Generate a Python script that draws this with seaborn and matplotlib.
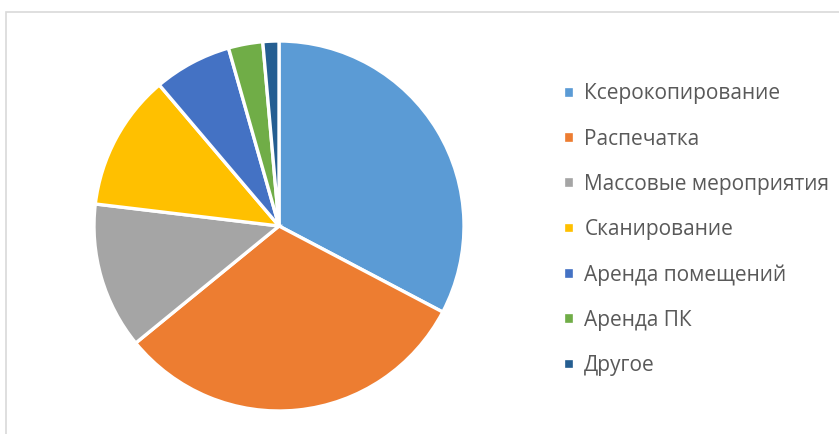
import matplotlib
matplotlib.use("Agg")
import matplotlib.pyplot as plt
from matplotlib.patches import Rectangle
import seaborn as sns

# Share of services (percent)
services = [
    "Ксерокопирование",
    "Распечатка",
    "Массовые мероприятия",
    "Сканирование",
    "Аренда помещений",
    "Аренда ПК",
    "Другое",
]
shares = [32.7, 31.4, 12.8, 11.9, 6.8, 3.0, 1.4]
colors = ["#5B9BD5", "#ED7D31", "#A5A5A5", "#FFC000", "#4472C4", "#70AD47", "#255E91"]

sns.set_theme(style="white")
plt.rcParams["font.family"] = ["Open Sans", "DejaVu Sans"]

fig = plt.figure(figsize=(8.39, 4.34), dpi=100)

# light chart-area frame (left and top edges visible)
fig.patches.append(Rectangle((6 / 839, -0.1), 1.2, 1.1 - 12 / 434,
                             transform=fig.transFigure, fill=False,
                             edgecolor="#D9D9D9", linewidth=1.2))

ax = fig.add_axes([94 / 839, 23 / 434, 370 / 839, 370 / 434])
wedges, _ = ax.pie(shares, colors=colors, startangle=90, counterclock=False,
                   wedgeprops=dict(edgecolor="white", linewidth=2.4))
ax.set_xlim(-1.0, 1.0)
ax.set_ylim(-1.0, 1.0)
ax.set_aspect("equal")

fig.legend(wedges, services, loc="upper left", bbox_to_anchor=(553 / 839, 1 - 73 / 434),
           frameon=False, fontsize=15, labelcolor="#595959",
           handlelength=0.5, handleheight=0.5, handletextpad=0.5,
           labelspacing=1.16, borderpad=0)

fig.savefig("out.png", dpi=100)
